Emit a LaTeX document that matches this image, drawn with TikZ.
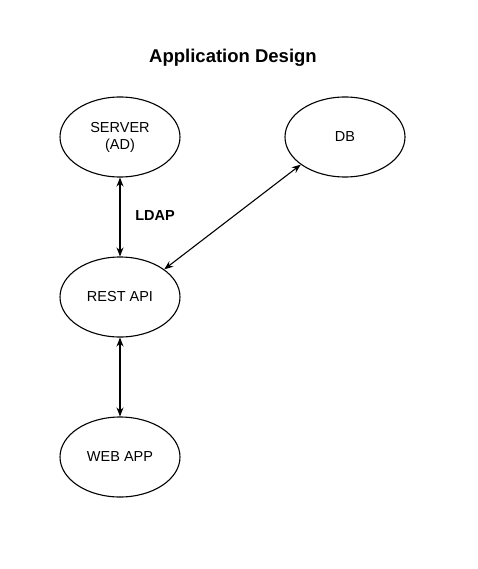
\documentclass[tikz,border=0pt]{standalone}
\usepackage{fontspec}
\setmainfont{Liberation Sans}
\usetikzlibrary{shapes.geometric,arrows.meta}
\begin{document}
\begin{tikzpicture}[x=1pt,y=-1pt,
  ell/.style={ellipse,draw,line width=1.1pt,minimum width=120pt,minimum height=80pt,inner sep=0pt,align=center,font=\fontsize{14.5}{17}\selectfont},
  conn/.style={line width=1.1pt,{Stealth[length=9pt,width=7pt,inset=3pt]}-{Stealth[length=9pt,width=7pt,inset=3pt]}}]
\useasboundingbox (0,0) rectangle (477,569);
\node[font=\bfseries\fontsize{18.5}{22}\selectfont] (title) at (233,58) {Application Design};
\node[ell] (server) at (120,137) {SERVER\\(AD)};
\node[ell] (db) at (345,137) {DB};
\node[ell] (rest) at (120,297) {REST API};
\node[ell] (web) at (120,457) {WEB APP};
\node[font=\bfseries\fontsize{14.5}{17}\selectfont] (ldap) at (155,216) {LDAP};
\draw[conn] (server) -- (rest);
\draw[conn] (rest) -- (web);
\draw[conn] (rest.32) -- (db.212);
\end{tikzpicture}
\end{document}
